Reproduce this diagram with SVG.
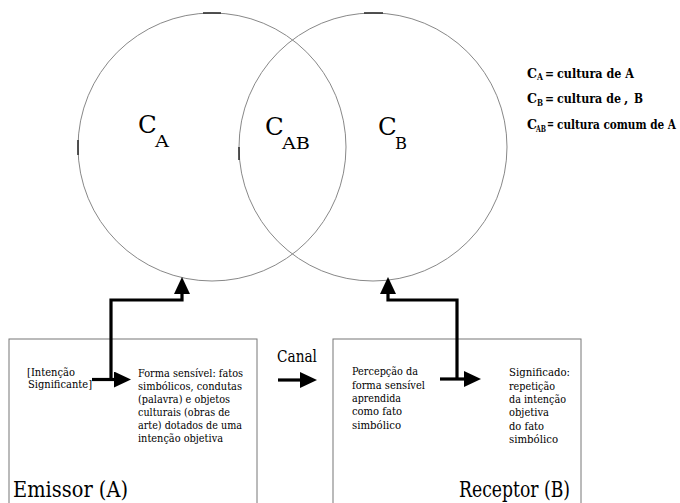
<svg xmlns="http://www.w3.org/2000/svg" width="680" height="503" viewBox="0 0 680 503">
<defs>
<marker id="ah" markerUnits="userSpaceOnUse" markerWidth="17" markerHeight="16" refX="0" refY="8" orient="auto">
<path d="M0,0 L17,8 L0,16 Z" fill="#000"/>
</marker>
<style>
.circ{fill:none;stroke:#888;stroke-width:1}
.tick{fill:none;stroke:#333;stroke-width:1.6}
.box{fill:#fff;stroke:#777;stroke-width:1}
.con{fill:none;stroke:#000;stroke-width:3.2;marker-end:url(#ah)}
text{font-family:"DejaVu Serif","Liberation Serif",serif;fill:#000}
.small{font-size:11.2px}
.big{font-size:23px}
.cl{font-size:24.5px}
.sub{font-size:16.5px}
.leg{font-size:12.5px;font-weight:bold}
.legsub{font-size:8.5px;font-weight:bold}
</style>
</defs>
<rect width="680" height="503" fill="#fff"/>

<g id="circleA">
<circle class="circ" cx="212" cy="147" r="134"/>
<path class="tick" d="M203,13 L221,13"/>
<path class="tick" d="M78,140 L78,155"/>
<text class="cl" x="138" y="133">C</text>
<text class="sub" x="155" y="147" textLength="14" lengthAdjust="spacingAndGlyphs">A</text>
</g>

<g id="circleB">
<circle class="circ" cx="373" cy="147" r="134"/>
<path class="tick" d="M364,13 L383,13"/>
<path class="tick" d="M239,147 L239,160"/>
<text class="cl" x="378" y="135">C</text>
<text class="sub" x="395" y="149" textLength="12" lengthAdjust="spacingAndGlyphs">B</text>
</g>

<g id="intersection">
<text class="cl" x="265" y="135">C</text>
<text class="sub" x="282" y="149" textLength="28" lengthAdjust="spacingAndGlyphs">AB</text>
</g>

<g id="legend">
<text class="leg" x="527" y="77.5" textLength="10" lengthAdjust="spacingAndGlyphs">C</text>
<text class="legsub" x="537" y="80" textLength="6" lengthAdjust="spacingAndGlyphs">A</text>
<text class="leg" x="545" y="77.5" textLength="9" lengthAdjust="spacingAndGlyphs">=</text>
<text class="leg" x="557" y="77.5" textLength="77" lengthAdjust="spacingAndGlyphs">cultura de A</text>

<text class="leg" x="527" y="103" textLength="10" lengthAdjust="spacingAndGlyphs">C</text>
<text class="legsub" x="537" y="105.5" textLength="6" lengthAdjust="spacingAndGlyphs">B</text>
<text class="leg" x="545" y="103" textLength="9" lengthAdjust="spacingAndGlyphs">=</text>
<text class="leg" x="557" y="103" textLength="64" lengthAdjust="spacingAndGlyphs">cultura de</text>
<text class="leg" x="624" y="103">,</text>
<text class="leg" x="634" y="103" textLength="9" lengthAdjust="spacingAndGlyphs">B</text>

<text class="leg" x="527" y="129" textLength="10" lengthAdjust="spacingAndGlyphs">C</text>
<text class="legsub" x="536" y="131.5" textLength="10" lengthAdjust="spacingAndGlyphs">AB</text>
<text class="leg" x="547" y="128" textLength="7" lengthAdjust="spacingAndGlyphs">=</text>
<text class="leg" x="557" y="129" textLength="119" lengthAdjust="spacingAndGlyphs">cultura comum de A</text>
</g>

<g id="emissor">
<rect class="box" x="9" y="339" width="248" height="180"/>
<text class="small" x="27" y="376" textLength="48" lengthAdjust="spacingAndGlyphs">[Intenção</text>
<text class="small" x="28" y="388" textLength="64" lengthAdjust="spacingAndGlyphs">Significante]</text>
<text class="small" x="138" y="377" textLength="105" lengthAdjust="spacingAndGlyphs">Forma sensível: fatos</text>
<text class="small" x="138" y="390" textLength="104" lengthAdjust="spacingAndGlyphs">simbólicos, condutas</text>
<text class="small" x="138" y="403" textLength="92" lengthAdjust="spacingAndGlyphs">(palavra) e objetos</text>
<text class="small" x="138" y="416" textLength="92" lengthAdjust="spacingAndGlyphs">culturais (obras de</text>
<text class="small" x="138" y="429" textLength="104" lengthAdjust="spacingAndGlyphs">arte) dotados de uma</text>
<text class="small" x="138" y="442" textLength="85" lengthAdjust="spacingAndGlyphs">intenção objetiva</text>
<text class="big" x="13" y="497" textLength="115" lengthAdjust="spacingAndGlyphs">Emissor (A)</text>
</g>

<g id="canal">
<text x="277" y="362" font-size="16" textLength="40" lengthAdjust="spacingAndGlyphs">Canal</text>
</g>

<g id="receptor">
<rect class="box" x="333" y="339" width="248" height="180"/>
<text class="small" x="352" y="375" textLength="66" lengthAdjust="spacingAndGlyphs">Percepção da</text>
<text class="small" x="352" y="388.5" textLength="73" lengthAdjust="spacingAndGlyphs">forma sensível</text>
<text class="small" x="352" y="402" textLength="49" lengthAdjust="spacingAndGlyphs">aprendida</text>
<text class="small" x="352" y="415" textLength="50" lengthAdjust="spacingAndGlyphs">como fato</text>
<text class="small" x="352" y="428.5" textLength="49" lengthAdjust="spacingAndGlyphs">simbólico</text>
<text class="small" x="509" y="376" textLength="61" lengthAdjust="spacingAndGlyphs">Significado:</text>
<text class="small" x="509" y="389.5" textLength="46" lengthAdjust="spacingAndGlyphs">repetição</text>
<text class="small" x="509" y="403" textLength="57" lengthAdjust="spacingAndGlyphs">da intenção</text>
<text class="small" x="509" y="416" textLength="40" lengthAdjust="spacingAndGlyphs">objetiva</text>
<text class="small" x="509" y="430" textLength="35" lengthAdjust="spacingAndGlyphs">do fato</text>
<text class="small" x="509" y="443" textLength="49" lengthAdjust="spacingAndGlyphs">simbólico</text>
<text class="big" x="459" y="497" textLength="111" lengthAdjust="spacingAndGlyphs">Receptor (B)</text>
</g>

<g id="connectors">
<path class="con" d="M92,379.5 L114,379.5"/>
<path class="con" d="M111,379.5 L111,300 L182,300 L182,294"/>
<path class="con" d="M278,380 L300,380"/>
<path class="con" d="M440,379 L464,379"/>
<path class="con" d="M457,379 L457,300 L388,300 L388,294"/>
</g>
</svg>
